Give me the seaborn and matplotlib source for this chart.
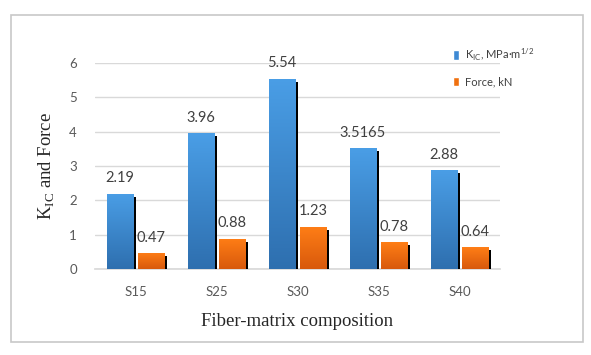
import numpy as np
import pandas as pd
import matplotlib
matplotlib.use("Agg")
import matplotlib.pyplot as plt
import matplotlib.patheffects as pe
from matplotlib.patches import Rectangle, Patch
from matplotlib.colors import LinearSegmentedColormap
import seaborn as sns

categories = ["S15", "S25", "S30", "S35", "S40"]
kic_values = [2.19, 3.96, 5.54, 3.5165, 2.88]
force_values = [0.47, 0.88, 1.23, 0.78, 0.64]
kic_labels = ["2.19", "3.96", "5.54", "3.5165", "2.88"]
force_labels = ["0.47", "0.88", "1.23", "0.78", "0.64"]
series_names = [r"K$_\mathregular{IC}$, MPa·m$^\mathregular{1/2}$", "Force, kN"]
y_ticks = [0, 1, 2, 3, 4, 5, 6]

df = pd.DataFrame({
    "cat": categories * 2,
    "val": kic_values + force_values,
    "series": [series_names[0]] * len(categories) + [series_names[1]] * len(categories),
})

sns.set_theme(style="white")
plt.rcParams["font.family"] = ["Lato", "DejaVu Sans"]

W, H = 591, 355
fig = plt.figure(figsize=(W / 100, H / 100), dpi=100)
ax = fig.add_axes([95 / W, 1 - 269 / H, (500 - 95) / W, (269 - 63) / H])

blue_mid = "#3A86D0"
orange_mid = "#F06E12"
sns.barplot(data=df, x="cat", y="val", hue="series", order=categories,
            hue_order=series_names, palette=[blue_mid, orange_mid],
            width=0.765, gap=0.16, ax=ax, legend=False, saturation=1)

blue_cmap = LinearSegmentedColormap.from_list("b", ["#4A9EE6", "#2E6FAF"])
orange_cmap = LinearSegmentedColormap.from_list("o", ["#FF7E16", "#D8590C"])
grad = np.linspace(0, 1, 256).reshape(-1, 1)

bars = [p for p in ax.patches if isinstance(p, Rectangle)]
n = len(categories)
for i, p in enumerate(bars):
    cmap = blue_cmap if i < n else orange_cmap
    p.set_path_effects([pe.SimplePatchShadow(offset=(2.3, -2.3), shadow_rgbFace="black", alpha=1.0), pe.Normal()])
    p.set_edgecolor("none")
    p.set_zorder(3)
    x0, w, h = p.get_x(), p.get_width(), p.get_height()
    im = ax.imshow(grad, extent=[x0, x0 + w, 0, h], cmap=cmap, aspect="auto",
                   origin="upper", zorder=4)
    im.set_clip_path(p)

for container, labels in zip(ax.containers, [kic_labels, force_labels]):
    ax.bar_label(container, labels=labels, padding=6, fontsize=10.5, color="#404040")

ax.set_xlim(-0.5, 4.5)
ax.set_ylim(0, 6)
ax.set_yticks(y_ticks)
ax.yaxis.grid(True, color="#D9D9D9", linewidth=1)
ax.set_axisbelow(True)
for s in ["top", "right", "left"]:
    ax.spines[s].set_visible(False)
ax.spines["bottom"].set_color("#D9D9D9")
ax.tick_params(axis="both", length=0, labelsize=9.5, colors="#595959")
ax.tick_params(axis="y", pad=13)
ax.tick_params(axis="x", pad=12)

ax.set_xlabel("Fiber-matrix composition", fontfamily="Liberation Serif", fontsize=13.5,
              color="#262626", labelpad=11)
ax.set_ylabel(r"K$_\mathregular{IC}$ and Force", fontfamily="Liberation Serif", fontsize=13.5,
              color="#262626", labelpad=9)

handles = [Patch(facecolor="#3E8AD4"), Patch(facecolor="#F0700F")]
fig.legend(handles, series_names, loc="upper left", bbox_to_anchor=(447 / W, 1 - 41 / H),
           frameon=False, fontsize=8, handlelength=0.6, handleheight=0.9,
           handletextpad=0.5, labelspacing=1.25, borderpad=0, labelcolor="#404040")

fig.patches.append(Rectangle((11 / W, 1 - 342 / H), (583 - 11) / W, (342 - 15) / H,
                             transform=fig.transFigure, fill=False,
                             edgecolor="#C8C8C8", linewidth=1.2))

fig.savefig("out.png", dpi=100, facecolor="white")
